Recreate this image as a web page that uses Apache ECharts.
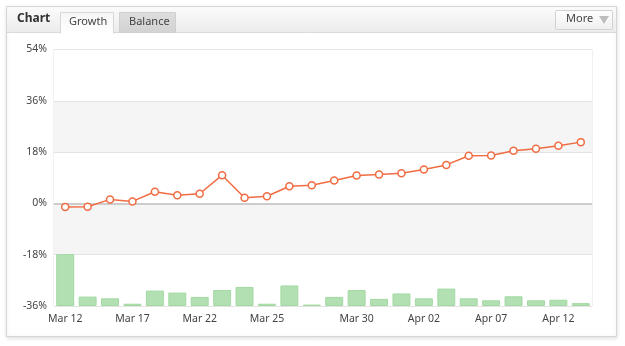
<!DOCTYPE html>
<html><head><meta charset="utf-8">
<script src="https://cdn.jsdelivr.net/npm/echarts@6/dist/echarts.min.js"></script>
<style>html,body{margin:0;padding:0;background:#fff;}#c{width:625px;height:346px;}</style>
</head><body><div id="c"></div>
<script>
const categories = ["Mar 12","Mar 15","Mar 16","Mar 17","Mar 18","Mar 19","Mar 22","Mar 23","Mar 24","Mar 25","Mar 26","Mar 28","Mar 29","Mar 30","Mar 31","Apr 01","Apr 02","Apr 05","Apr 06","Apr 07","Apr 08","Apr 09","Apr 12","Apr 13"];
const tickLabels = ["Mar 12","Mar 17","Mar 22","Mar 25","Mar 30","Apr 02","Apr 07","Apr 12"];
const growth = [-1.3,-1.2,1.4,0.7,4.1,2.9,3.4,9.9,2.0,2.5,6.0,6.4,8.0,9.8,10.1,10.6,11.9,13.5,16.7,16.8,18.5,19.2,20.2,21.5];
const volume = [18.2,3.3,2.7,0.8,5.4,4.7,3.2,5.6,6.7,0.8,7.2,0.5,3.2,5.6,2.5,4.4,2.7,6.1,2.7,2.0,3.4,2.0,2.2,1.0];
const yTicks = [-36,-18,0,18,36,54];

const font = "Noto Sans";
const chart = echarts.init(document.getElementById('c'), null, {renderer:'canvas'});
chart.setOption({
  animation:false,
  backgroundColor:'#fff',
  graphic:[
    {type:'rect', z:-10, shape:{x:6.5,y:6.5,width:610,height:330}, style:{fill:'#fff',stroke:'#d6d6d6',lineWidth:1,shadowBlur:4,shadowColor:'rgba(0,0,0,0.12)',shadowOffsetY:1}},
    {type:'rect', z:-9, shape:{x:7,y:7,width:609,height:25}, style:{fill:new echarts.graphic.LinearGradient(0,0,0,1,[{offset:0,color:'#fbfbfb'},{offset:1,color:'#ececec'}])}},
    {type:'line', z:-8, shape:{x1:7,y1:32.5,x2:616,y2:32.5}, style:{stroke:'#dadada',lineWidth:1}},
    {type:'text', left:17, top:13, style:{text:'Chart',font:'bold 12px "Noto Sans"',fill:'#333'}},
    {type:'rect', z:-7, shape:{x:60.5,y:12.5,width:53,height:21}, style:{fill:new echarts.graphic.LinearGradient(0,0,0,1,[{offset:0,color:'#f6f6f6'},{offset:1,color:'#ffffff'}]),stroke:'#d8d8d8',lineWidth:1}},
    {type:'rect', z:-6, shape:{x:61,y:32,width:52,height:2}, style:{fill:'#fff'}},
    {type:'text', left:69, top:16, style:{text:'Growth',font:'11px "Noto Sans"',fill:'#444'}},
    {type:'rect', z:-7, shape:{x:119.5,y:12.5,width:56,height:20}, style:{fill:new echarts.graphic.LinearGradient(0,0,0,1,[{offset:0,color:'#dedede'},{offset:1,color:'#d2d2d2'}]),stroke:'#cfcfcf',lineWidth:1}},
    {type:'text', left:129, top:16, style:{text:'Balance',font:'11px "Noto Sans"',fill:'#444'}},
    {type:'rect', z:-7, shape:{x:555.5,y:10.5,width:57,height:19,r:1}, style:{fill:new echarts.graphic.LinearGradient(0,0,0,1,[{offset:0,color:'#ffffff'},{offset:1,color:'#efefef'}]),stroke:'#d2d2d2',lineWidth:1}},
    {type:'text', left:566, top:13, style:{text:'More',font:'11px "Noto Sans"',fill:'#444'}},
    {type:'polygon', shape:{points:[[599,16],[609,16],[604,24]]}, style:{fill:'#bdbdbd'}}
  ],
  grid:{left:54,right:33,top:49.5,bottom:40,show:true,borderColor:'#e2e2e2',borderWidth:1,backgroundColor:'transparent'},
  xAxis:{type:'category',data:categories,boundaryGap:true,
    axisLine:{show:true,lineStyle:{color:'#cfcfcf',width:1}},
    axisTick:{show:false},
    axisLabel:{interval:(i,v)=>tickLabels.includes(v),color:'#444',fontFamily:font,fontSize:10.5,margin:8},
    splitLine:{show:false}},
  yAxis:[
    {type:'value',min:-36,max:54,interval:18,
     axisLine:{show:false},axisTick:{show:false},
     axisLabel:{formatter:v=>v+'%',color:'#444',fontFamily:font,fontSize:10.5,margin:7},
     splitLine:{show:true,lineStyle:{color:'#e4e4e4',width:1}},
     splitArea:{show:true,areaStyle:{color:['#ffffff','#f5f5f5']}}},
    {type:'value',min:0,max:90,show:false,splitLine:{show:false}}
  ],
  series:[
    {type:'bar',yAxisIndex:1,data:volume,barCategoryGap:'20%',
     itemStyle:{color:'#b2e0b2',borderColor:'#a3d8a3',borderWidth:1},z:2,silent:true},
    {type:'line',yAxisIndex:0,data:growth,symbol:'circle',symbolSize:7,
     lineStyle:{color:'#f06c42',width:1.5},
     itemStyle:{color:'#fff',borderColor:'#f06c42',borderWidth:1.5},z:5,
     markLine:{silent:true,symbol:'none',label:{show:false},lineStyle:{color:'#cccccc',width:2,type:'solid'},data:[{yAxis:0}]}}
  ]
});
</script></body></html>
